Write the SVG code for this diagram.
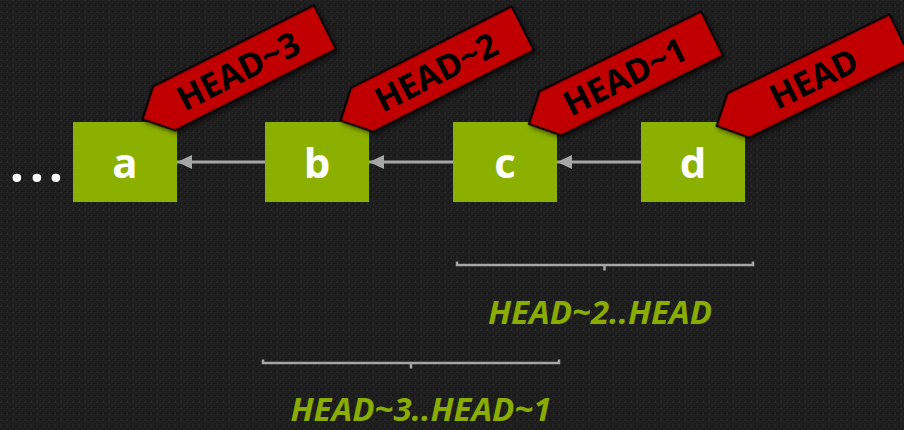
<svg xmlns="http://www.w3.org/2000/svg" width="904" height="430" viewBox="0 0 904 430">
  <defs>
    <pattern id="tex" width="6" height="6" patternUnits="userSpaceOnUse">
      <rect width="6" height="6" fill="#1d1d1d"/>
      <rect x="0" y="0" width="2" height="1" fill="#282828"/>
      <rect x="3" y="2" width="2" height="1" fill="#252525"/>
      <rect x="1" y="4" width="1" height="2" fill="#272727"/>
      <rect x="4" y="5" width="2" height="1" fill="#171717"/>
    </pattern>
    <filter id="shadow" x="-20%" y="-40%" width="140%" height="180%">
      <feDropShadow dx="1" dy="3" stdDeviation="2.5" flood-color="#000" flood-opacity="0.55"/>
    </filter>
    <marker id="arrow" viewBox="0 0 15 14" refX="15" refY="7" markerWidth="15" markerHeight="14" markerUnits="userSpaceOnUse" orient="auto">
      <path d="M0,0 L15,7 L0,14 Z" fill="#a6a6a6"/>
    </marker>
  </defs>
  <style>
    .node { fill: #8cb000; }
    .nlabel { font-family: "Open Sans", "Liberation Sans", sans-serif; font-weight: bold; font-size: 42px; fill: #ffffff; text-anchor: middle; }
    .tag { fill: #c00000; stroke: #000; stroke-width: 2; stroke-linejoin: miter; }
    .tlabel { font-family: "Open Sans", "Liberation Sans", sans-serif; font-weight: bold; font-size: 34px; fill: #000; text-anchor: middle; }
    .conn { stroke: #a6a6a6; stroke-width: 3; fill: none; }
    .bracket { stroke: #a6a6a6; stroke-width: 2.5; fill: none; }
    .range { font-family: "Open Sans", "Liberation Sans", sans-serif; font-weight: bold; font-style: italic; font-size: 33px; fill: #8aac00; text-anchor: middle; }
    .dots { font-family: "Open Sans", "Liberation Sans", sans-serif; font-weight: bold; font-size: 50px; fill: #ffffff; text-anchor: middle; }
  </style>
  <rect width="904" height="430" fill="url(#tex)"/>

  <text class="dots" x="17 37 56" y="182">...</text>

  <g id="connectors">
    <line class="conn" x1="265" y1="162" x2="177" y2="162" marker-end="url(#arrow)"/>
    <line class="conn" x1="453" y1="162" x2="369" y2="162" marker-end="url(#arrow)"/>
    <line class="conn" x1="641" y1="162" x2="557" y2="162" marker-end="url(#arrow)"/>
  </g>

  <g id="node-a">
    <rect class="node" x="73" y="122" width="104" height="80"/>
    <text class="nlabel" x="125" y="178">a</text>
  </g>
  <g id="node-b">
    <rect class="node" x="265" y="122" width="104" height="80"/>
    <text class="nlabel" x="317" y="178">b</text>
  </g>
  <g id="node-c">
    <rect class="node" x="453" y="122" width="104" height="80"/>
    <text class="nlabel" x="505" y="178">c</text>
  </g>
  <g id="node-d">
    <rect class="node" x="641" y="122" width="104" height="80"/>
    <text class="nlabel" x="693" y="178">d</text>
  </g>

  <g id="tag-head3" transform="translate(142.7,119.3) rotate(-26.8)">
    <polygon class="tag" filter="url(#shadow)" points="0,0 24,-24.5 204,-24.5 204,24.5 24,24.5"/>
    <text class="tlabel" x="107" y="12">HEAD~3</text>
  </g>
  <g id="tag-head2" transform="translate(340.7,120.7) rotate(-26.9)">
    <polygon class="tag" filter="url(#shadow)" points="0,0 24,-24.5 204,-24.5 204,24.5 24,24.5"/>
    <text class="tlabel" x="107" y="12">HEAD~2</text>
  </g>
  <g id="tag-head1" transform="translate(529,124) rotate(-26.3)">
    <polygon class="tag" filter="url(#shadow)" points="0,0 24,-24.5 204,-24.5 204,24.5 24,24.5"/>
    <text class="tlabel" x="107" y="12">HEAD~1</text>
  </g>
  <g id="tag-head" transform="translate(716.7,126) rotate(-26)">
    <polygon class="tag" filter="url(#shadow)" points="0,0 24,-24.5 204,-24.5 204,24.5 24,24.5"/>
    <text class="tlabel" x="108" y="12">HEAD</text>
  </g>

  <g id="range-1">
    <path class="bracket" d="M457,261.5 V265 H753 V261.5 M604.5,265 V270.5"/>
    <text class="range" x="600" y="324">HEAD~2..HEAD</text>
  </g>
  <g id="range-2">
    <path class="bracket" d="M263,359.5 V363 H559 V359.5 M411,363 V368.5"/>
    <text class="range" x="421" y="421">HEAD~3..HEAD~1</text>
  </g>
</svg>
